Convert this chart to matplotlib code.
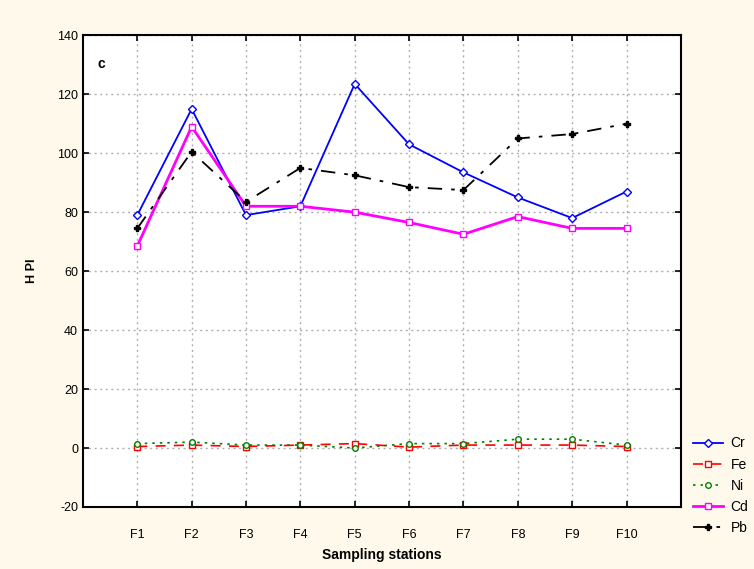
import numpy as np
import matplotlib.pyplot as plt

plt.rcParams['font.family'] = ['Liberation Sans', 'DejaVu Sans']
plt.rcParams['axes.unicode_minus'] = False

# Données
stations = ['F1', 'F2', 'F3', 'F4', 'F5', 'F6', 'F7', 'F8', 'F9', 'F10']
cr = [79, 115, 79, 82, 123.5, 103, 93.5, 85, 78, 87]
fe = [0.5, 1, 0.5, 1, 1.5, 0.3, 1, 1, 1, 0.5]
ni = [1.5, 2, 1, 1, 0, 1.5, 1.5, 3, 3, 1]
cd = [68.5, 109, 82, 82, 80, 76.5, 72.5, 78.5, 74.5, 74.5]
pb = [74.5, 100.5, 83.5, 95, 92.5, 88.5, 87.5, 105, 106.5, 110]

bg = '#fff9ec'
fig = plt.figure(figsize=(7.54, 5.69), dpi=100, facecolor=bg)
ax = fig.add_axes([0.110, 0.109, 0.793, 0.829])
ax.set_facecolor('white')

x = np.arange(1, len(stations) + 1)

ax.plot(x, cr, color='#0000ff', lw=1.3, marker='D', ms=4, mfc='white', mec='#0000ff', label='Cr')
ax.plot(x, fe, color='#ff0000', lw=1.2, ls=(0, (6, 5)), marker='s', ms=4, mfc='white', mec='#ff0000', label='Fe')
ax.plot(x, ni, color='#008000', lw=1.2, ls=(0, (1.5, 3)), marker='o', ms=4, mfc='white', mec='#008000', label='Ni')
ax.plot(x, cd, color='#ff00ff', lw=2, marker='s', ms=5, mfc='white', mec='#ff00ff', label='Cd')
ax.plot(x, pb, color='black', lw=1.3, ls=(0, (8, 5, 2, 5)), marker='P', ms=5, label='Pb')

ax.set_xlim(0, 11)
ax.set_ylim(-20, 140)
ax.set_xticks(x)
ax.set_xticklabels(stations)
ax.set_yticks(np.arange(-20, 141, 20))
ax.grid(True, color='#b0b0b0', ls=(0, (1.5, 2.5)), lw=1)

for s in ax.spines.values():
    s.set_linewidth(1.5)
ax.tick_params(axis='both', direction='in', length=4, width=1.2, top=True, right=True,
               labelsize=9, colors='black')
ax.tick_params(axis='x', pad=16)

ax.set_xlabel('Sampling stations', fontsize=10, fontweight='bold', labelpad=5)
ax.set_ylabel('H PI', fontsize=9, fontweight='bold', labelpad=14)
ax.text(0.025, 0.93, 'c', transform=ax.transAxes, fontsize=10, fontweight='bold')

handles, labels = ax.get_legend_handles_labels()
fig.legend(handles, labels, loc='upper left', bbox_to_anchor=(0.919, 0.233),
           frameon=False, fontsize=10, handlelength=2.2, labelspacing=0.52,
           handletextpad=0.5, borderaxespad=0, borderpad=0)

fig.savefig('out.png', dpi=100, facecolor=bg)
